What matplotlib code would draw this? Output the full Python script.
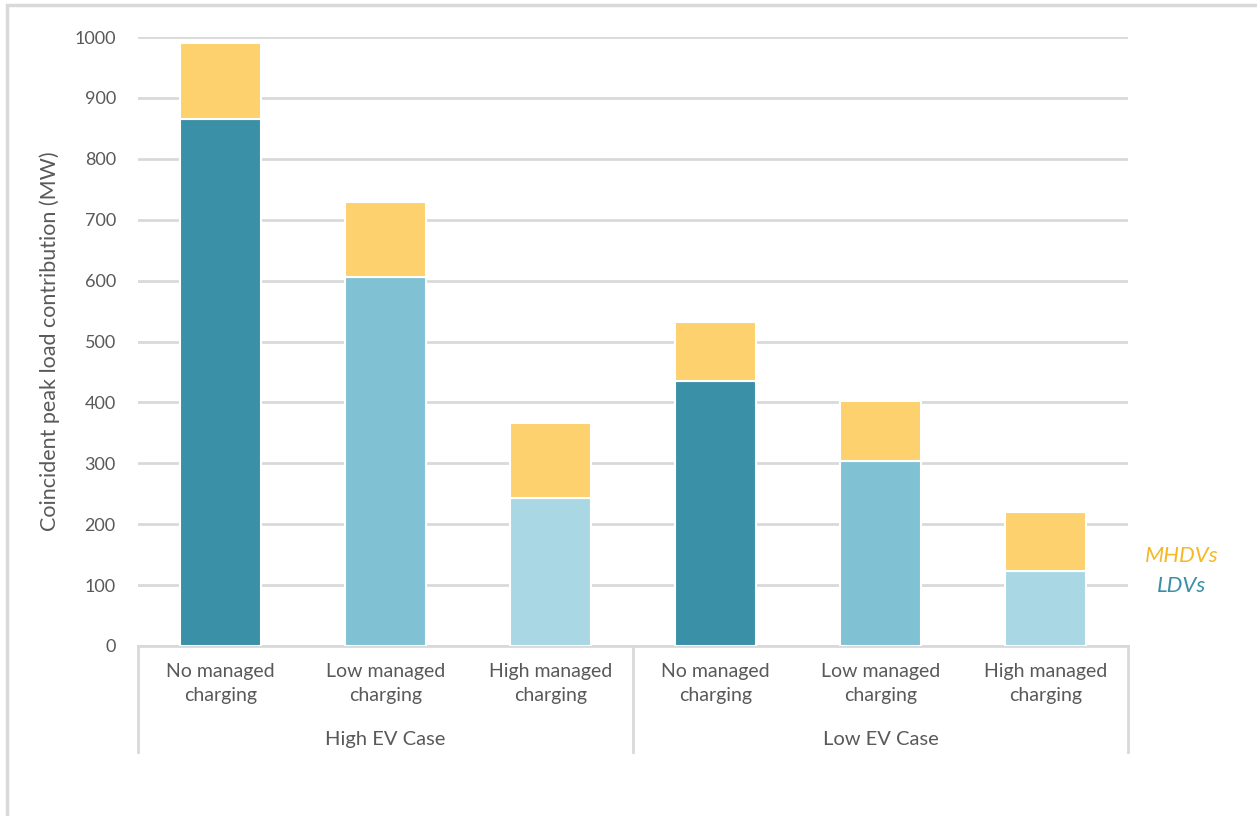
import numpy as np
import matplotlib.pyplot as plt
import matplotlib.transforms as mtransforms
from matplotlib.patches import Rectangle

categories = ["No managed\ncharging", "Low managed\ncharging", "High managed\ncharging"] * 2
cases = ["High EV Case", "Low EV Case"]
ldv = [865, 606, 243, 435, 304, 123]
total = [990, 729, 366, 532, 402, 220]
mhdv = [t - l for t, l in zip(total, ldv)]

ldv_colors = ["#3A90A7", "#80C2D3", "#A9D8E4"] * 2
mhdv_color = "#FDD16E"
text_color = "#595959"
grid_color = "#D9D9D9"

plt.rcParams["font.family"] = ["Lato", "DejaVu Sans"]

fig = plt.figure(figsize=(12.57, 8.16), dpi=100)
ax = fig.add_axes([138 / 1257, 1 - 646 / 816, 990 / 1257, 609 / 816])

# outer chart border
fig.patches.append(Rectangle((7 / 1257, -0.01), 1.1, 1 - 5 / 816 + 0.01,
                             transform=fig.transFigure, fill=False,
                             edgecolor="#D9D9D9", linewidth=2.5))

x = np.arange(len(categories))
width = 0.485
ax.bar(x, ldv, width, color=ldv_colors, edgecolor="white", linewidth=1.5, zorder=3)
ax.bar(x, mhdv, width, bottom=ldv, color=mhdv_color, edgecolor="white", linewidth=1.5, zorder=3)

ax.set_xlim(-0.5, len(categories) - 0.5)
ax.set_ylim(0, 1000)
ax.set_yticks(np.arange(0, 1001, 100))
ax.yaxis.grid(True, color=grid_color, linewidth=2)
ax.set_axisbelow(True)
for side in ["top", "right", "left"]:
    ax.spines[side].set_visible(False)
ax.spines["bottom"].set_color(grid_color)
ax.spines["bottom"].set_linewidth(2)

ax.tick_params(axis="y", length=0, labelsize=13, labelcolor=text_color, pad=16)
ax.set_xticks(x)
ax.set_xticklabels(categories, fontsize=14, color=text_color, linespacing=1.5)
ax.tick_params(axis="x", length=0, pad=12)

ax.set_ylabel("Coincident peak load contribution (MW)", fontsize=15.5,
              color=text_color, labelpad=10)

# multi-level category axis
trans = mtransforms.blended_transform_factory(ax.transData, ax.transAxes)
for xv in [-0.5, 2.5, 5.5]:
    ax.plot([xv, xv], [0, -0.174], transform=trans, color=grid_color,
            linewidth=2, clip_on=False)
for i, case in enumerate(cases):
    ax.text(1 + 3 * i, -0.153, case, transform=trans, ha="center", va="center",
            fontsize=14.5, color=text_color)

# legend-like labels
ax.text(1.054, 0.148, "MHDVs", transform=ax.transAxes, ha="center", va="center",
        fontsize=16, style="italic", color="#F6B826")
ax.text(1.054, 0.099, "LDVs", transform=ax.transAxes, ha="center", va="center",
        fontsize=16, style="italic", color="#3A90A7")

fig.savefig("out.png", dpi=100)
